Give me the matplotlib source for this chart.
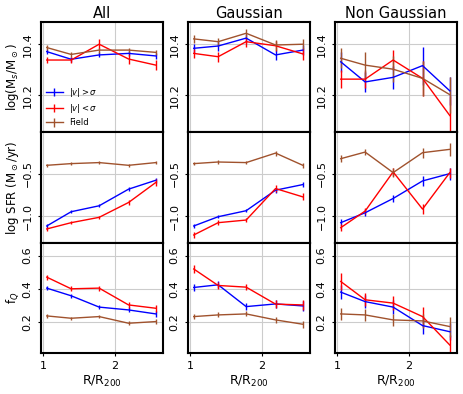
import numpy as np
import matplotlib
matplotlib.use("Agg")
import matplotlib.pyplot as plt

# radial bins
r = [1.05, 1.39, 1.78, 2.19, 2.57]

cols = ["All", "Gaussian", "Non Gaussian"]

# stellar mass: [panel][series] ; series order: high v, low v, field
mass_hi = [[10.371, 10.341, 10.358, 10.364, 10.354],
           [10.384, 10.393, 10.424, 10.358, 10.377],
           [10.331, 10.252, 10.270, 10.316, 10.217]]
mass_hi_err = [[0.01, 0.01, 0.01, 0.01, 0.012],
               [0.018, 0.018, 0.018, 0.02, 0.02],
               [0.04, 0.04, 0.045, 0.075, 0.055]]
mass_lo = [[10.338, 10.338, 10.400, 10.342, 10.318],
           [10.364, 10.351, 10.410, 10.394, 10.362],
           [10.263, 10.263, 10.338, 10.266, 10.120]]
mass_lo_err = [[0.012, 0.01, 0.02, 0.018, 0.02],
               [0.018, 0.02, 0.02, 0.02, 0.025],
               [0.035, 0.035, 0.04, 0.07, 0.075]]
mass_fd = [[10.387, 10.360, 10.377, 10.377, 10.368],
           [10.421, 10.410, 10.443, 10.397, 10.400],
           [10.345, 10.318, 10.302, 10.266, 10.202]]
mass_fd_err = [[0.01, 0.01, 0.01, 0.01, 0.01],
               [0.015, 0.015, 0.015, 0.02, 0.02],
               [0.04, 0.05, 0.05, 0.07, 0.07]]

sfr_hi = [[-1.113, -0.945, -0.875, -0.679, -0.574],
          [-1.113, -1.004, -0.933, -0.691, -0.625],
          [-1.074, -0.957, -0.789, -0.582, -0.496]]
sfr_hi_err = [[0.02, 0.02, 0.02, 0.02, 0.03],
              [0.02, 0.02, 0.02, 0.03, 0.03],
              [0.04, 0.04, 0.04, 0.06, 0.07]]
sfr_lo = [[-1.148, -1.074, -1.011, -0.836, -0.600],
          [-1.219, -1.074, -1.043, -0.672, -0.770],
          [-1.133, -0.937, -0.476, -0.914, -0.484]]
sfr_lo_err = [[0.02, 0.02, 0.02, 0.03, 0.04],
              [0.03, 0.03, 0.02, 0.04, 0.04],
              [0.04, 0.04, 0.05, 0.06, 0.06]]
sfr_fd = [[-0.398, -0.378, -0.366, -0.398, -0.366],
          [-0.378, -0.359, -0.366, -0.254, -0.398],
          [-0.320, -0.242, -0.484, -0.249, -0.210]]
sfr_fd_err = [[0.015, 0.015, 0.015, 0.02, 0.02],
              [0.02, 0.02, 0.02, 0.03, 0.03],
              [0.04, 0.04, 0.05, 0.06, 0.08]]

fq_hi = [[0.405, 0.359, 0.291, 0.274, 0.250],
         [0.409, 0.425, 0.294, 0.310, 0.298],
         [0.381, 0.324, 0.291, 0.180, 0.143]]
fq_hi_err = [[0.012, 0.012, 0.012, 0.015, 0.02],
             [0.02, 0.02, 0.02, 0.025, 0.03],
             [0.04, 0.04, 0.04, 0.05, 0.05]]
fq_lo = [[0.471, 0.401, 0.405, 0.304, 0.284],
         [0.520, 0.421, 0.411, 0.309, 0.304],
         [0.445, 0.335, 0.315, 0.234, 0.063]]
fq_lo_err = [[0.015, 0.015, 0.015, 0.02, 0.02],
             [0.025, 0.02, 0.02, 0.025, 0.03],
             [0.05, 0.04, 0.04, 0.06, 0.06]]
fq_fd = [[0.238, 0.224, 0.234, 0.194, 0.204],
         [0.234, 0.244, 0.250, 0.214, 0.188],
         [0.250, 0.244, 0.214, 0.208, 0.174]]
fq_fd_err = [[0.01, 0.01, 0.01, 0.012, 0.015],
             [0.015, 0.015, 0.015, 0.02, 0.02],
             [0.035, 0.035, 0.035, 0.04, 0.06]]

rows = [
    (mass_hi, mass_hi_err, mass_lo, mass_lo_err, mass_fd, mass_fd_err),
    (sfr_hi, sfr_hi_err, sfr_lo, sfr_lo_err, sfr_fd, sfr_fd_err),
    (fq_hi, fq_hi_err, fq_lo, fq_lo_err, fq_fd, fq_fd_err),
]
ylabels = [r"log(M$_s$/M$_\odot$)", r"log SFR (M$_\odot$/yr)", r"f$_Q$"]
ylims = [(10.054, 10.487), (-1.31, -0.01), (0.015, 0.678)]
yticks = [[10.2, 10.4], [-1.0, -0.5], [0.2, 0.4, 0.6]]

fig, axes = plt.subplots(3, 3, figsize=(4.63, 3.94), dpi=100)
fig.subplots_adjust(left=0.0886, right=0.987, top=0.944, bottom=0.104,
                     hspace=0, wspace=0.205)

for i in range(3):
    hi, hie, lo, loe, fd, fde = rows[i]
    for j in range(3):
        ax = axes[i, j]
        ax.grid(True, color="#cccccc", linewidth=0.8)
        ax.set_axisbelow(True)
        ax.errorbar(r, hi[j], yerr=hie[j], color="blue", lw=1, label=r"$|v|>\sigma$")
        ax.errorbar(r, lo[j], yerr=loe[j], color="red", lw=1, label=r"$|v|<\sigma$")
        ax.errorbar(r, fd[j], yerr=fde[j], color="sienna", lw=1, label="Field")
        ax.set_xlim(0.97, 2.67)
        ax.set_ylim(ylims[i])
        ax.set_xticks([1, 2])
        ax.set_yticks(yticks[i])
        ax.tick_params(labelsize=8, length=2.5)
        for lab in ax.get_yticklabels():
            lab.set_rotation(90)
            lab.set_va("center")
        for s in ax.spines.values():
            s.set_linewidth(1.5)
        if i < 2:
            ax.set_xticklabels([])
        else:
            ax.set_xlabel(r"R/R$_{200}$", fontsize=9, labelpad=2)
        if i == 0:
            ax.set_title(cols[j], fontsize=10.5, pad=3)
        if j == 0:
            ax.set_ylabel(ylabels[i], fontsize=8.5, labelpad=1)

axes[0, 0].legend(loc="lower left", fontsize=6, frameon=False,
                  handlelength=2, borderaxespad=0.2, labelspacing=0.4)

fig.savefig("out.png", dpi=100)
